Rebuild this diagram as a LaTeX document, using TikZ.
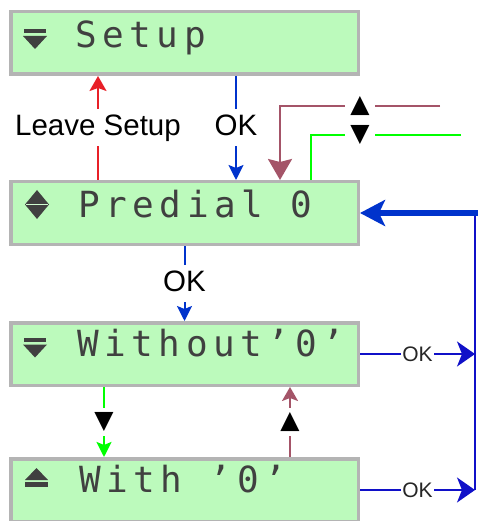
\documentclass[tikz,border=0pt]{standalone}
\usepackage{fontspec}
\setmainfont{Liberation Sans}
\newfontfamily\lcdfont[LetterSpace=15.5]{DejaVu Sans Mono}
\newfontfamily\symfont{DejaVu Sans}
\usetikzlibrary{positioning, arrows.meta, calc}

\definecolor{lcdgreen}{RGB}{188,250,188}
\definecolor{lcdframe}{RGB}{180,180,180}
\definecolor{lcdink}{RGB}{64,64,64}
\definecolor{leavered}{RGB}{232,32,40}
\definecolor{okblue}{RGB}{0,51,204}
\definecolor{busblue}{RGB}{16,16,200}
\definecolor{upmaroon}{RGB}{164,84,104}
\definecolor{downgreen}{RGB}{0,255,0}

% menu marks drawn left of the display text
\newcommand{\lcdmarkdown}[1]{%
  \fill[lcdink, shift={#1}] (15,-19) rectangle (37,-15);
  \fill[lcdink, shift={#1}] (14,-12) -- (38,-12) -- (26,1) -- cycle;}
\newcommand{\lcdmarkup}[1]{%
  \fill[lcdink, shift={#1}] (16,-12) -- (39,-12) -- (27.5,-24) -- cycle;
  \fill[lcdink, shift={#1}] (16,-10) rectangle (39,-5);}
\newcommand{\lcdmarkboth}[1]{%
  \fill[lcdink, shift={#1}] (28,-27) -- (40,-12.5) -- (28,2) -- (16,-12.5) -- cycle;
  \draw[lcdgreen!70!white, line width=1pt, shift={#1}] (17,-12.5) -- (39,-12.5);}

\begin{document}
\begin{tikzpicture}[x=1pt, y=-1pt,
    lcdbox/.style={draw=lcdframe, line width=3.5pt, fill=lcdgreen,
      minimum width=347.5pt, minimum height=62.5pt, inner sep=0pt},
    lcdtext/.style={text=lcdink, font=\lcdfont\fontsize{36pt}{39pt}\selectfont,
      inner sep=0pt, anchor=base west},
    biglabel/.style={fill=white, text=black, font=\fontsize{29.5pt}{31pt}\selectfont,
      text height=21pt, text depth=6pt, inner xsep=2pt, inner ysep=5pt},
    oklabel/.style={fill=white, text=black!85, font=\fontsize{21pt}{23pt}\selectfont,
      inner sep=1pt},
    trilabel/.style={fill=white, text=black, font=\symfont\fontsize{25pt}{27pt}\selectfont,
      inner xsep=5pt, inner ysep=4pt}]
  \useasboundingbox (0,0) rectangle (477,521);

  \node[lcdbox] (setup) at (184.5,43) {};
  \node[lcdbox, below=104pt of setup] (predial) {};
  \node[lcdbox, below=75pt of predial] (without) {};
  \node[lcdbox, below=70pt of without] (with) {};

  \node[lcdtext] (setuptext) at ([xshift=66pt, yshift=-5pt]setup.west) {Setup};
  \node[lcdtext] (predialtext) at ([xshift=69pt, yshift=-4pt]predial.west) {Predial 0};
  \node[lcdtext] (withouttext) at ([xshift=68pt, yshift=-2.5pt]without.west) {Without’0’};
  \node[lcdtext] (withtext) at ([xshift=70pt, yshift=-2pt]with.west) {With ’0’};

  \lcdmarkdown{(setup.west |- setuptext.base)}
  \lcdmarkboth{(predial.west |- predialtext.base)}
  \lcdmarkdown{(without.west |- withouttext.base)}
  \lcdmarkup{(with.west |- withtext.base)}

  \coordinate (upstart) at (440,106);
  \coordinate (upturn) at (280,106);
  \coordinate (downstart) at (461,135);
  \coordinate (downturn) at (311,135);
  \coordinate (bus) at (475,213);
  \coordinate (busend) at (480,213);

  \draw[leavered, line width=2pt, -{Stealth[length=15pt, width=17pt, inset=3pt]}]
    ([xshift=-86.5pt]predial.north) -- node[biglabel] {Leave Setup} ([xshift=-86.5pt]setup.south);
  \draw[okblue, line width=2pt, -{Stealth[length=15pt, width=15pt, inset=3pt]}]
    ([xshift=51.5pt]setup.south) -- node[biglabel] {OK} ([xshift=51.5pt]predial.north);
  \draw[upmaroon, line width=2.5pt, -{Stealth[length=21pt, width=24pt, inset=3pt]}]
    (upstart) -- node[trilabel] {▲} (upturn) -- (upturn |- predial.north);
  \draw[downgreen, line width=2.5pt]
    (downstart) -- node[trilabel, pos=0.673] {▼} (downturn) -- (downturn |- predial.north);

  \draw[okblue, line width=2pt, -{Stealth[length=15pt, width=15pt, inset=3pt]}]
    (predial.south) -- node[biglabel] {OK} (without.north);

  \draw[downgreen, line width=2.5pt, -{Stealth[length=15pt, width=15pt, inset=3pt]}]
    ([xshift=-80.5pt]without.south) -- node[trilabel] {▼} ([xshift=-80.5pt]with.north);
  \draw[upmaroon, line width=2pt, -{Stealth[length=14pt, width=16pt, inset=3pt]}]
    ([xshift=105.5pt]with.north) -- node[trilabel] {▲} ([xshift=105.5pt]without.south);

  \draw[busblue, line width=2pt] (bus) -- (bus |- with.east);
  \draw[busblue, line width=2pt, -{Stealth[length=18pt, width=25pt, inset=5pt]}]
    (without.east) -- node[oklabel] {OK} (without.east -| bus);
  \draw[busblue, line width=2pt, -{Stealth[length=18pt, width=25pt, inset=5pt]}]
    (with.east) -- node[oklabel] {OK} (with.east -| bus);
  \draw[okblue, line width=6pt, -{Stealth[length=25pt, width=26pt, inset=6pt]}]
    (busend) -- (predial.east);
\end{tikzpicture}
\end{document}
